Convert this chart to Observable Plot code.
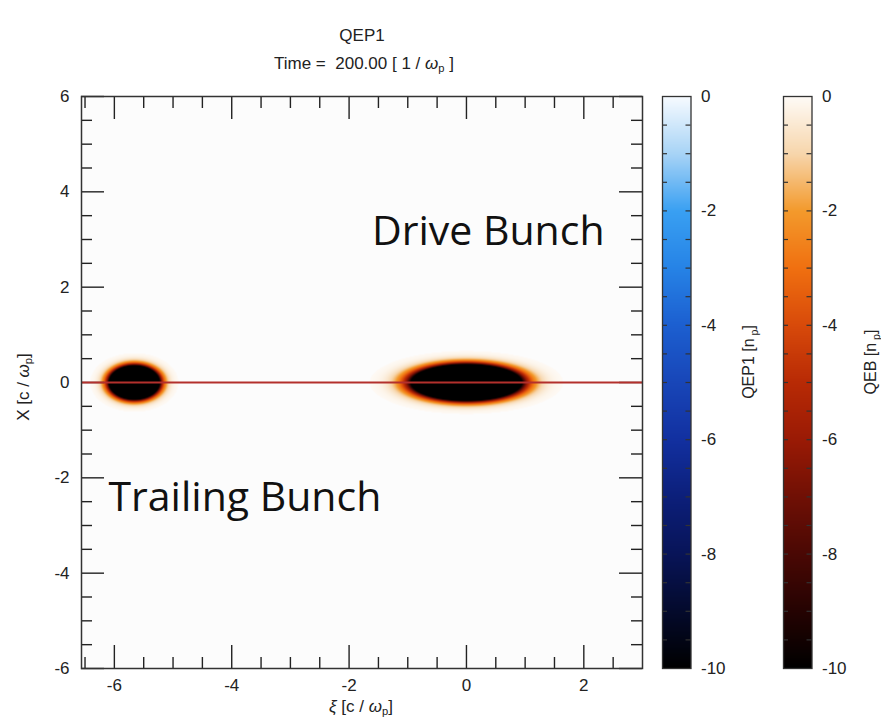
<!DOCTYPE html>
<html><head><meta charset="utf-8">
<script src="https://cdn.jsdelivr.net/npm/d3@7"></script>
<script src="https://cdn.jsdelivr.net/npm/@observablehq/plot@0.6"></script>
<style>
body{margin:0;background:#fff;}
#wrap{position:relative;width:881px;height:720px;font-family:"Liberation Sans",Arial,sans-serif;color:#222;overflow:hidden;background:#fff}
.abs{position:absolute;white-space:nowrap;line-height:1}
.c{transform:translate(-50%,-50%)}
.r{transform:translate(-50%,-50%) rotate(-90deg)}
sub{font-size:0.66em;vertical-align:-0.35em;line-height:0}
</style></head><body><div id="wrap"></div>
<script>
// ---- axis ranges and ticks ----
const xDomain = [-6.56, 3];
const yDomain = [-6, 6];
const xMajor = [-6, -4, -2, 0, 2];
const xMinor = [-6.5, -5.5, -5, -4.5, -3.5, -3, -2.5, -1.5, -1, -0.5, 0.5, 1, 1.5, 2.5];
const yMajor = [-6, -4, -2, 0, 2, 4, 6];
const yMinor = [-5.5, -5, -4.5, -3.5, -3, -2.5, -1.5, -1, -0.5, 0.5, 1, 1.5, 2.5, 3, 3.5, 4.5, 5, 5.5];

// ---- colour bar ticks ----
const cbDomain = [-10, 0];
const cbLabels = [0, -2, -4, -6, -8, -10];
const cbMinor = [-9.5, -9, -8.5, -8, -7.5, -7, -6.5, -6, -5.5, -5, -4.5, -4, -3.5, -3, -2.5, -2, -1.5, -1, -0.5];

// ---- colour maps (value -> colour) ----
const mapValues = [-10, -9, -8, -7, -6, -5, -4, -3, -2, -1, 0];
const blueColors = ["#000000", "#040a2c", "#081458", "#0c1f7a", "#1230a0", "#1846b8", "#1c5fd0", "#2683e6", "#39a0f2", "#a8d4f6", "#f7fbff"];
const orangeColors = ["#000000", "#250302", "#4a0804", "#701005", "#9a1a05", "#b82a05", "#d84a0a", "#f07010", "#f39a2c", "#f7d6ac", "#fefbf7"];

// ---- bunches (QEB charge density) ----
const bunchName = ["Trailing Bunch", "Drive Bunch"];
const bunchXi = [-5.66, 0.0];
const bunchX = [0.0, 0.0];
const bunchSigmaXi = [0.185, 0.405];
const bunchSigmaX = [0.152, 0.163];
const bunchPeak = [-155, -155];

// ---- beam axis line ----
const axisLineX = [0];

// ---- annotations ----
const annoText = ["Drive Bunch", "Trailing Bunch"];
const annoXi = [-1.61, -6.10];
const annoX = [3.17, -2.43];

function qeb(xi, x) {
  let v = 0;
  for (let i = 0; i < bunchXi.length; i++) {
    const a = (xi - bunchXi[i]) / bunchSigmaXi[i];
    const b = (x - bunchX[i]) / bunchSigmaX[i];
    v += bunchPeak[i] * Math.exp(-0.5 * (a * a + b * b));
  }
  return v > -0.04 ? NaN : v;
}

const wrap = document.getElementById("wrap");
const font = "Liberation Sans, Arial, sans-serif";

// main plot geometry
const W = 660, H = 640, ML = 81, MR = 18, MT = 16, MB = 52;
const FW = W - ML - MR, FH = H - MT - MB;
const tickStyle = {stroke: "#222", strokeWidth: 1.4};

const main = Plot.plot({
  width: W, height: H,
  marginLeft: ML, marginRight: MR, marginTop: MT, marginBottom: MB,
  style: {fontFamily: font, fontSize: "17px", background: "transparent", color: "#222"},
  x: {domain: xDomain},
  y: {domain: yDomain},
  color: {type: "linear", domain: mapValues, range: orangeColors, clamp: true, interpolate: "rgb"},
  marks: [
    Plot.frame({fill: "#fcfcfc"}),
    Plot.raster({fill: (x, y) => qeb(x, y), x1: xDomain[0], x2: xDomain[1], y1: yDomain[0], y2: yDomain[1], pixelSize: 1, imageRendering: "auto"}),
    Plot.tickX(xMajor, {x: d => d, insetTop: FH - 23, ...tickStyle}),
    Plot.tickX(xMinor, {x: d => d, insetTop: FH - 11, ...tickStyle}),
    Plot.tickX(xMajor, {x: d => d, insetBottom: FH - 23, ...tickStyle}),
    Plot.tickX(xMinor, {x: d => d, insetBottom: FH - 12, ...tickStyle}),
    Plot.tickY(yMajor, {y: d => d, insetRight: FW - 23, ...tickStyle}),
    Plot.tickY(yMinor, {y: d => d, insetRight: FW - 11, ...tickStyle}),
    Plot.tickY(yMajor, {y: d => d, insetLeft: FW - 23, ...tickStyle}),
    Plot.tickY(yMinor, {y: d => d, insetLeft: FW - 11, ...tickStyle}),
    Plot.ruleY(axisLineX, {y: d => d, stroke: "#b3302c", strokeWidth: 2.2}),
    Plot.text(annoText, {x: (d, i) => annoXi[i], y: (d, i) => annoX[i], text: d => d, textAnchor: "start", fontSize: 41, fontFamily: "Open Sans, sans-serif", fill: "#111"}),
    Plot.frame({stroke: "#333", strokeWidth: 1.5}),
    Plot.axisX({ticks: xMajor, tickSize: 0, tickPadding: 10, label: null, tickFormat: d => String(d)}),
    Plot.axisY({ticks: yMajor, tickSize: 0, tickPadding: 12, label: null, tickFormat: d => String(d)})
  ]
});
main.style.position = "absolute";
main.style.left = "0px";
main.style.top = "80px";
wrap.appendChild(main);

function colorbar(colors, left) {
  const w = 100, ml = 12, barW = 28.5, mr = w - ml - barW;
  const p = Plot.plot({
    width: w, height: H,
    marginLeft: ml, marginRight: mr, marginTop: MT, marginBottom: MB,
    style: {fontFamily: font, fontSize: "17px", background: "transparent", color: "#222"},
    x: {domain: [0, 1], axis: null},
    y: {domain: cbDomain},
    color: {type: "linear", domain: mapValues, range: colors, clamp: true, interpolate: "rgb"},
    marks: [
      Plot.raster({fill: (x, y) => y, x1: 0, x2: 1, y1: cbDomain[0], y2: cbDomain[1], pixelSize: 1, imageRendering: "auto"}),
      Plot.tickY(cbMinor, {y: d => d, insetRight: barW - 5, stroke: "#333", strokeWidth: 1.2}),
      Plot.tickY(cbMinor, {y: d => d, insetLeft: barW - 5, stroke: "#333", strokeWidth: 1.2}),
      Plot.frame({stroke: "#333", strokeWidth: 1.3}),
      Plot.axisY({anchor: "right", ticks: cbLabels, tickSize: 0, tickPadding: 10, label: null, tickFormat: d => String(d)})
    ]
  });
  p.style.position = "absolute";
  p.style.left = left + "px";
  p.style.top = "80px";
  wrap.appendChild(p);
}
colorbar(blueColors, 650);
colorbar(orangeColors, 770.5);

function label(html, x, y, cls, size) {
  const d = document.createElement("div");
  d.className = "abs " + cls;
  d.style.left = x + "px";
  d.style.top = y + "px";
  d.style.fontSize = size + "px";
  d.innerHTML = html;
  wrap.appendChild(d);
}
label("QEP1", 362, 35, "c", 17);
label("Time =&nbsp; 200.00 [ 1 / <i>ω</i><sub>p</sub> ]", 364, 63, "c", 17);
label("<i>ξ</i>&nbsp;[c / <i>ω</i><sub>p</sub>]", 361, 706, "c", 17);
label("X&nbsp;[c / <i>ω</i><sub>p</sub>]", 23, 387, "r", 17);
label("QEP1 [n<sub>&nbsp;p</sub>]", 749, 362, "r", 16);
label("QEB [n<sub>&nbsp;p</sub>]", 871, 362, "r", 16);
</script>
</body></html>
